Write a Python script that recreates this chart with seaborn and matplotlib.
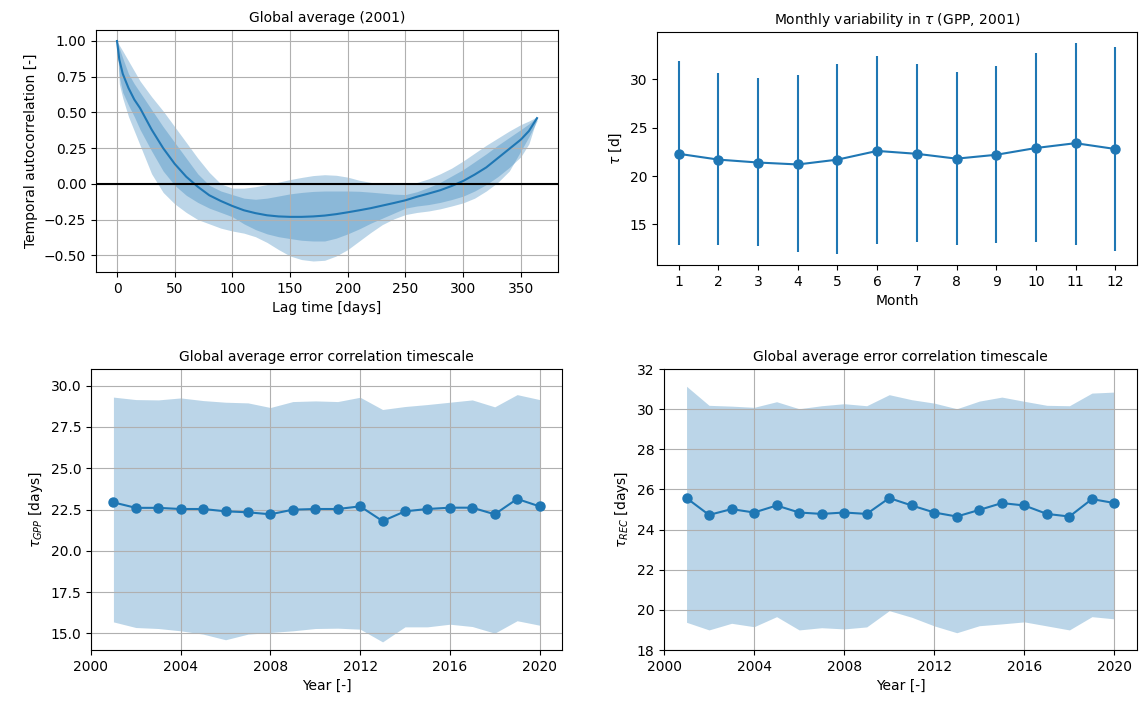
import numpy as np
import pandas as pd
import seaborn as sns
import matplotlib.pyplot as plt

# --- top left: temporal autocorrelation, global average 2001 ---
lag = [0, 2, 5, 10, 15, 20, 30, 40, 50, 60, 70, 80, 90, 100, 110, 120, 130, 140,
       150, 160, 170, 180, 190, 200, 210, 220, 230, 240, 250, 260, 270, 280, 290,
       300, 310, 320, 330, 340, 350, 357, 364]
acf_mean = [1.00, 0.87, 0.77, 0.67, 0.59, 0.53, 0.38, 0.25, 0.14, 0.05, -0.02, -0.08,
            -0.12, -0.155, -0.185, -0.205, -0.22, -0.228, -0.231, -0.231, -0.228,
            -0.222, -0.212, -0.199, -0.185, -0.17, -0.152, -0.134, -0.115, -0.09,
            -0.068, -0.045, -0.015, 0.02, 0.065, 0.115, 0.18, 0.245, 0.31, 0.37, 0.46]
acf_in_hi = [1.00, 0.95, 0.88, 0.77, 0.70, 0.64, 0.52, 0.40, 0.29, 0.18, 0.07, -0.01,
             -0.05, -0.075, -0.10, -0.108, -0.10, -0.085, -0.07, -0.06, -0.053, -0.05,
             -0.05, -0.05, -0.052, -0.058, -0.065, -0.072, -0.075, -0.055, -0.025,
             0.01, 0.055, 0.10, 0.155, 0.21, 0.27, 0.325, 0.38, 0.42, 0.47]
acf_in_lo = [1.00, 0.75, 0.64, 0.55, 0.47, 0.38, 0.23, 0.09, -0.01, -0.08, -0.13, -0.17,
             -0.20, -0.23, -0.28, -0.32, -0.35, -0.37, -0.383, -0.395, -0.40, -0.40,
             -0.38, -0.35, -0.315, -0.275, -0.24, -0.205, -0.17, -0.155, -0.145, -0.13,
             -0.11, -0.086, -0.05, -0.005, 0.05, 0.115, 0.19, 0.28, 0.46]
acf_out_hi = [1.00, 0.97, 0.93, 0.86, 0.79, 0.72, 0.61, 0.51, 0.40, 0.29, 0.18, 0.08,
              0.00, -0.03, -0.03, -0.02, -0.005, 0.012, 0.03, 0.045, 0.058, 0.064, 0.06,
              0.047, 0.025, 0.01, 0.0, -0.005, -0.005, 0.01, 0.035, 0.07, 0.11, 0.16,
              0.215, 0.27, 0.32, 0.37, 0.415, 0.44, 0.47]
acf_out_lo = [1.00, 0.70, 0.60, 0.47, 0.37, 0.27, 0.07, -0.06, -0.14, -0.20, -0.25,
              -0.28, -0.31, -0.33, -0.345, -0.37, -0.41, -0.46, -0.505, -0.53, -0.54,
              -0.535, -0.505, -0.46, -0.40, -0.34, -0.285, -0.245, -0.215, -0.20, -0.19,
              -0.175, -0.155, -0.133, -0.10, -0.05, 0.01, 0.09, 0.23, 0.33, 0.44]

# --- top right: monthly tau ---
months = list(range(1, 13))
tau_month = [22.3, 21.7, 21.4, 21.2, 21.7, 22.6, 22.3, 21.8, 22.2, 22.9, 23.4, 22.8]
tau_month_lo = [12.9, 12.9, 12.8, 12.1, 11.9, 13.0, 13.2, 12.9, 13.1, 13.2, 12.9, 12.3]
tau_month_hi = [31.9, 30.7, 30.1, 30.5, 31.6, 32.4, 31.6, 30.8, 31.4, 32.7, 33.8, 33.3]

# --- bottom: yearly global average timescales ---
years = list(range(2001, 2021))
gpp_mean = [22.93, 22.6, 22.6, 22.53, 22.53, 22.39, 22.33, 22.21, 22.49, 22.53,
            22.53, 22.69, 21.8, 22.39, 22.53, 22.61, 22.61, 22.21, 23.14, 22.69]
gpp_hi = [29.3, 29.15, 29.13, 29.25, 29.09, 28.99, 28.95, 28.67, 29.03, 29.07,
          29.03, 29.29, 28.55, 28.73, 28.85, 28.99, 29.13, 28.71, 29.45, 29.15]
gpp_lo = [15.7, 15.36, 15.3, 15.16, 14.96, 14.62, 14.96, 15.06, 15.16, 15.3,
          15.32, 15.26, 14.49, 15.4, 15.4, 15.56, 15.42, 15.02, 15.77, 15.5]
rec_mean = [25.57, 24.73, 25.02, 24.85, 25.2, 24.85, 24.78, 24.85, 24.78, 25.57,
            25.2, 24.85, 24.65, 24.98, 25.32, 25.2, 24.78, 24.65, 25.52, 25.32]
rec_hi = [31.14, 30.19, 30.15, 30.09, 30.37, 30.02, 30.17, 30.27, 30.17, 30.72,
          30.47, 30.3, 30.02, 30.4, 30.6, 30.39, 30.19, 30.17, 30.8, 30.85]
rec_lo = [19.38, 19.0, 19.33, 19.16, 19.66, 19.0, 19.11, 19.05, 19.15, 19.96,
          19.63, 19.2, 18.86, 19.21, 19.3, 19.4, 19.2, 19.0, 19.66, 19.55]

W, H = 1139, 706


def box(l, t, r, b):
    return [l / W, 1 - b / H, (r - l) / W, (b - t) / H]


fig = plt.figure(figsize=(W / 100, H / 100), dpi=100)
ax1 = fig.add_axes(box(96, 30, 558, 272))
ax2 = fig.add_axes(box(657, 32, 1137, 265))
ax3 = fig.add_axes(box(91, 369, 562, 650))
ax4 = fig.add_axes(box(664, 369, 1137, 650))

c0 = 'C0'
mk = dict(marker='o', markersize=6.5, markeredgecolor=c0, markeredgewidth=1,
          linewidth=1.5)

# top left
ax1.fill_between(lag, acf_out_lo, acf_out_hi, color=c0, alpha=0.3, linewidth=0)
ax1.fill_between(lag, acf_in_lo, acf_in_hi, color=c0, alpha=0.3, linewidth=0)
sns.lineplot(x=lag, y=acf_mean, ax=ax1, color=c0, linewidth=1.5)
ax1.axhline(0, color='k', linewidth=1.5)
ax1.grid(True)
ax1.set_title('Global average (2001)', fontsize=10)
ax1.set_xlabel('Lag time [days]')
ax1.set_ylabel('Temporal autocorrelation [-]')

# top right
err = [np.array(tau_month) - np.array(tau_month_lo),
       np.array(tau_month_hi) - np.array(tau_month)]
ax2.errorbar(months, tau_month, yerr=err, fmt='none', ecolor=c0, elinewidth=1.5)
sns.lineplot(x=months, y=tau_month, ax=ax2, color=c0, **mk)
ax2.set_xticks(months)
ax2.set_title(r'Monthly variability in $\tau$ (GPP, 2001)', fontsize=10)
ax2.set_xlabel('Month')
ax2.set_ylabel(r'$\tau$ [d]')

# bottom left
ax3.fill_between(years, gpp_lo, gpp_hi, color=c0, alpha=0.3, linewidth=0)
sns.lineplot(x=years, y=gpp_mean, ax=ax3, color=c0, **mk)
ax3.set_xlim(2000, 2021)
ax3.set_ylim(14, 31)
ax3.set_xticks(range(2000, 2021, 4))
ax3.set_yticks(np.arange(15, 30.1, 2.5))
ax3.grid(True)
ax3.set_title('Global average error correlation timescale', fontsize=10)
ax3.set_xlabel('Year [-]')
ax3.set_ylabel(r'$\tau_{GPP}$ [days]')

# bottom right
ax4.fill_between(years, rec_lo, rec_hi, color=c0, alpha=0.3, linewidth=0)
sns.lineplot(x=years, y=rec_mean, ax=ax4, color=c0, **mk)
ax4.set_xlim(2000, 2021)
ax4.set_ylim(18, 32)
ax4.set_xticks(range(2000, 2021, 4))
ax4.grid(True)
ax4.set_title('Global average error correlation timescale', fontsize=10)
ax4.set_xlabel('Year [-]')
ax4.set_ylabel(r'$\tau_{REC}$ [days]')

fig.savefig('out.png', dpi=100)
